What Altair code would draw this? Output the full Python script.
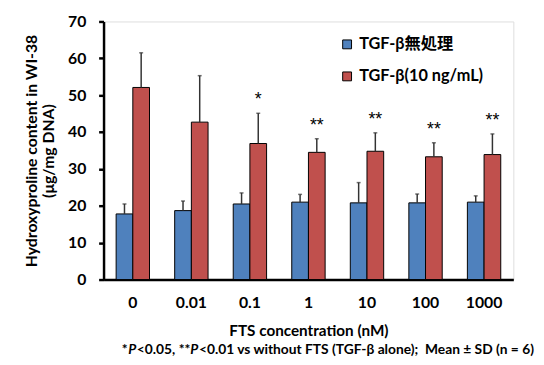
import altair as alt
import pandas as pd

concs = ["0", "0.01", "0.1", "1", "10", "100", "1000"]
series = ["TGF-β無処理", "TGF-β(10 ng/mL)"]
ctrl_mean = [17.8, 18.7, 20.5, 21.0, 20.8, 20.8, 21.0]
ctrl_sd = [2.7, 2.6, 3.0, 2.1, 5.5, 2.4, 1.7]
tgf_mean = [52.1, 42.7, 36.9, 34.5, 34.8, 33.3, 33.9]
tgf_sd = [9.4, 12.6, 8.2, 3.7, 5.0, 3.8, 5.6]
sig = ["", "", "*", "**", "**", "**", "**"]
y_ticks = [0, 10, 20, 30, 40, 50, 60, 70]

rows = []
for i, c in enumerate(concs):
    rows.append({"conc": c, "series": series[0], "mean": ctrl_mean[i],
                 "upper": ctrl_mean[i] + ctrl_sd[i], "sig": ""})
    rows.append({"conc": c, "series": series[1], "mean": tgf_mean[i],
                 "upper": tgf_mean[i] + tgf_sd[i], "sig": sig[i]})
df = pd.DataFrame(rows)

FONT = "Lato, Noto Sans CJK JP, sans-serif"
colors = ["#4F81BD", "#C0504D"]

x_axis = alt.Axis(title="FTS concentration (nM)", labelAngle=0, ticks=False,
                  domainColor="black", domainWidth=2.5,
                  labelFont=FONT, labelFontSize=16, labelFontWeight="bold",
                  labelColor="black", labelPadding=15,
                  titleFont=FONT, titleFontSize=15.5, titleFontWeight="bold",
                  titleColor="black", titlePadding=14)
y_axis = alt.Axis(title=["Hydroxyproline content in WI-38", "(μg/mg DNA)"],
                  values=y_ticks, labelOverlap=False, grid=False,
                  domainColor="black", domainWidth=2.5,
                  tickColor="black", tickWidth=2.5, tickSize=5,
                  labelFont=FONT, labelFontSize=16, labelFontWeight="bold",
                  labelColor="black", labelPadding=13,
                  titleFont=FONT, titleFontSize=16, titleFontWeight="bold",
                  titleColor="black", titlePadding=11, titleLineHeight=17.5)
x_scale = alt.Scale(paddingInner=0.43, paddingOuter=0.215)
xo_scale = alt.Scale(paddingInner=0, paddingOuter=0)
y_scale = alt.Scale(domain=[0, 70], nice=False)


def xe():
    return alt.X("conc:N", sort=concs, scale=x_scale, axis=x_axis)


def xoe():
    return alt.XOffset("series:N", sort=series, scale=xo_scale)


bars = alt.Chart(df).mark_bar(stroke="black", strokeWidth=1).encode(
    x=xe(),
    xOffset=xoe(),
    y=alt.Y("mean:Q", scale=y_scale, axis=y_axis),
    color=alt.Color("series:N", sort=series,
                    scale=alt.Scale(domain=series, range=colors),
                    legend=alt.Legend(title=None, orient="none", legendX=239, legendY=15,
                                      symbolType="square", symbolSize=81,
                                      symbolStrokeColor="black", symbolStrokeWidth=1,
                                      labelFont=FONT, labelFontSize=16.5,
                                      labelFontWeight="bold", labelColor="black",
                                      labelOffset=4, rowPadding=15.5, padding=0)),
)

err = alt.Chart(df).mark_rule(color="#333333", strokeWidth=1.5).encode(
    x=xe(),
    xOffset=xoe(),
    y=alt.Y("mean:Q", scale=y_scale, axis=y_axis),
    y2="upper:Q",
)

caps = alt.Chart(df).mark_tick(color="#333333", thickness=1.5, size=4, orient="horizontal").encode(
    x=xe(),
    xOffset=xoe(),
    y=alt.Y("upper:Q", scale=y_scale, axis=y_axis),
)

stars = alt.Chart(df).mark_text(font="Liberation Sans", fontSize=18, color="black",
                                 baseline="middle", dy=-13).encode(
    x=xe(),
    xOffset=xoe(),
    y=alt.Y("upper:Q", scale=y_scale, axis=y_axis),
    text="sig:N",
)

note_pieces = [
    ("*", "normal", 18.5),
    ("P", "italic", 25),
    ("<0.05, **", "normal", 33.8),
    ("P", "italic", 88),
    ("<0.01 vs without FTS (TGF-β alone);\u00a0 Mean ± SD (n = 6)", "normal", 96.8),
]
note_layers = []
for txt, style, xpos in note_pieces:
    note_layers.append(
        alt.Chart(pd.DataFrame({"t": [txt]})).mark_text(
            font=FONT, fontSize=14, fontWeight="bold", fontStyle=style,
            color="black", align="left", baseline="middle"
        ).encode(text="t:N", x=alt.value(xpos), y=alt.value(334))
    )

chart = alt.layer(bars, err, caps, stars, *note_layers).properties(
    width=416, height=262,
    autosize=alt.AutoSizeParams(type="none"),
    padding={"left": 97, "top": 11, "right": 23, "bottom": 80},
).configure_view(
    fill="#FFFFEC", stroke="#D9D9D9", strokeWidth=1
).configure(background="white")

chart.save("out.html", embed_options={"renderer": "svg", "actions": False})
